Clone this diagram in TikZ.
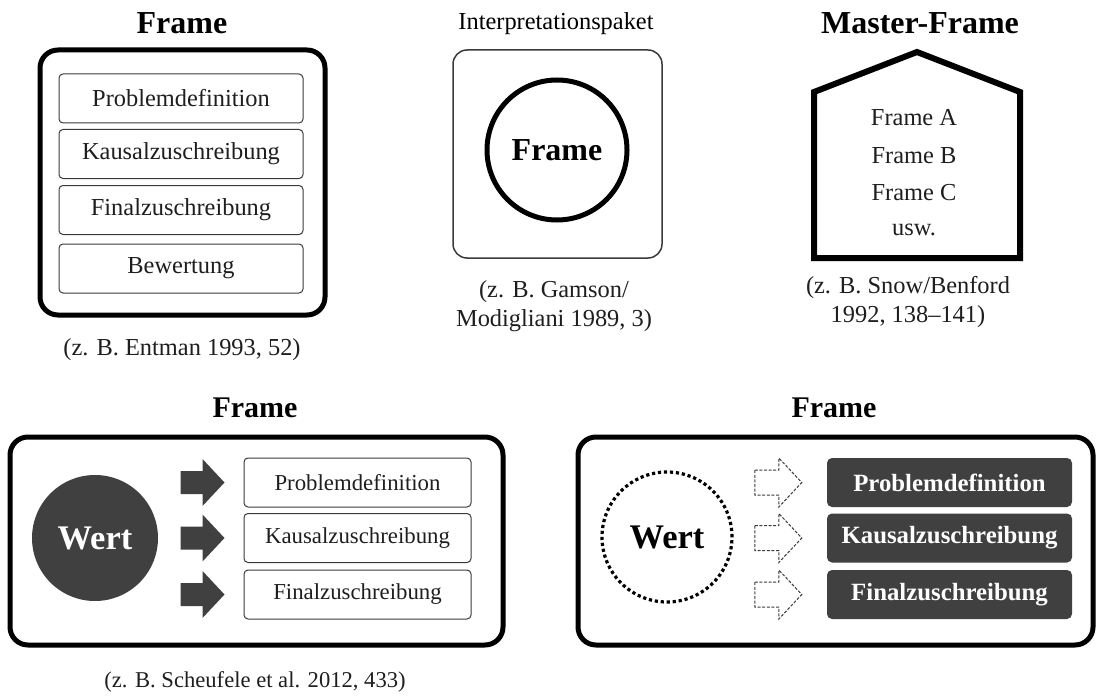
\documentclass[tikz,border=0pt]{standalone}
\usepackage{fontspec}
\setmainfont{Liberation Serif}
\definecolor{boxgray}{HTML}{404040}
\definecolor{linegray}{HTML}{3A3A3A}
\definecolor{inkgray}{HTML}{1E1E1E}
\begin{document}
\begin{tikzpicture}[x=1pt,y=-1pt]
\tikzset{
  title/.style={font=\fontsize{32}{36}\selectfont\bfseries, inner sep=0pt},
  subtitle/.style={font=\fontsize{30}{34}\selectfont\bfseries, inner sep=0pt},
  plain/.style={font=\fontsize{24.4}{29}\selectfont, inner sep=0pt, align=center, text=inkgray},
  smallplain/.style={font=\fontsize{22.6}{27}\selectfont, inner sep=0pt, align=center, text=inkgray},
  heavybox/.style={draw, line width=5pt, rounded corners=18pt, inner sep=0pt},
  itembox/.style={draw=linegray, line width=1pt, rounded corners=4pt, minimum height=49pt,
    font=\fontsize{24.4}{29}\selectfont, text=inkgray, inner sep=0pt},
  smallitembox/.style={itembox, font=\fontsize{22.8}{27}\selectfont},
  darkbox/.style={fill=boxgray, rounded corners=5pt, minimum height=49pt, minimum width=245pt,
    text=white, font=\fontsize{24.8}{29}\selectfont\bfseries, inner sep=0pt},
  solidarrow/.style={fill=boxgray},
  dasharrow/.style={draw=linegray, line width=1pt, dash pattern=on 3pt off 1.6pt},
}
\useasboundingbox (0,0) rectangle (1100,698);

% ---- frame with four elements
\node[title] (t1) at (182,23) {Frame};
\node[heavybox, minimum width=285pt, minimum height=265pt] (f1) at (182.5,182.5) {};
\node[itembox, minimum width=244pt] (p1) at (181,98.5) {Problemdefinition};
\node[itembox, minimum width=244pt] (k1) at (181,154) {Kausalzuschreibung};
\node[itembox, minimum width=244pt] (z1) at (181,210) {Finalzuschreibung};
\node[itembox, minimum width=244pt] (b1) at (181,268.5) {Bewertung};
\node[plain] (c1) at (182,350) {(z. B. Entman 1993, 52)};

% ---- interpretative package
\node[plain, text=black] (t2) at (556,24) {Interpretationspaket};
\node[draw=linegray, line width=1.5pt, rounded corners=14pt, minimum width=209pt,
      minimum height=208pt, inner sep=0pt] (f2) at (557.5,154) {};
\node[circle, draw, line width=5pt, minimum size=140pt, inner sep=0pt,
      font=\fontsize{32}{36}\selectfont\bfseries] (o2) at (557,150) {Frame};
\node[plain] (c2) at (554,306) {(z. B. Gamson/\\Modigliani 1989, 3)};

% ---- master frame
\node[title] (t3) at (920,23) {Master-Frame};
\coordinate (peak) at (917,52);
\draw[line width=6pt, line join=miter] (peak) -- (1020,92) -- (1020,258) -- (814,258) -- (814,92) -- cycle;
\node[plain] (ma) at (914,118) {Frame A};
\node[plain] (mb) at (914,156) {Frame B};
\node[plain] (mc) at (914,193) {Frame C};
\node[plain] (md) at (914,230) {usw.};
\node[plain] (c3) at (908,302) {(z. B. Snow/Benford\\1992, 138--141)};

% ---- value-based frame
\node[subtitle] (t4) at (255,408) {Frame};
\node[heavybox, minimum width=493pt, minimum height=208pt] (f4) at (256.5,541) {};
\node[circle, fill=boxgray, minimum size=126pt, inner sep=0pt, text=white,
      font=\fontsize{34.5}{38}\selectfont\bfseries] (w4) at (95,538) {Wert};
\node[smallitembox, minimum width=227pt] (p4) at (357.5,482.5) {Problemdefinition};
\node[smallitembox, minimum width=227pt] (k4) at (357.5,538) {Kausalzuschreibung};
\node[smallitembox, minimum width=227pt] (z4) at (357.5,594.5) {Finalzuschreibung};
\foreach \n in {p4,k4,z4}{
  \path (\n.west) ++(-63,0) coordinate (a);
  \fill[solidarrow] (a) ++(0,-11.5) -- ++(22,0) -- ++(0,-12) -- ++(22,23.5)
        -- ++(-22,23.5) -- ++(0,-12) -- ++(-22,0) -- cycle;
}
\node[smallplain] (c4) at (255,682) {(z. B. Scheufele et al. 2012, 433)};

% ---- latent value frame
\node[subtitle] (t5) at (834,408) {Frame};
\node[heavybox, minimum width=515pt, minimum height=208pt] (f5) at (835.5,541) {};
\node[circle, draw, line width=3.2pt, dash pattern=on 3.2pt off 2.8pt, minimum size=130pt,
      inner sep=0pt, font=\fontsize{34.5}{38}\selectfont\bfseries] (w5) at (667,537) {Wert};
\node[darkbox] (p5) at (949.5,482.5) {Problemdefinition};
\node[darkbox] (k5) at (949.5,538) {Kausalzuschreibung};
\node[darkbox] (z5) at (949.5,594.5) {Finalzuschreibung};
\foreach \n in {p5,k5,z5}{
  \path (\n.west) ++(-72,0) coordinate (a);
  \draw[dasharrow] (a) ++(0,-12.5) -- ++(24,0) -- ++(0,-12) -- ++(23,24.5)
        -- ++(-23,24.5) -- ++(0,-12) -- ++(-24,0) -- cycle;
}
\end{tikzpicture}
\end{document}
